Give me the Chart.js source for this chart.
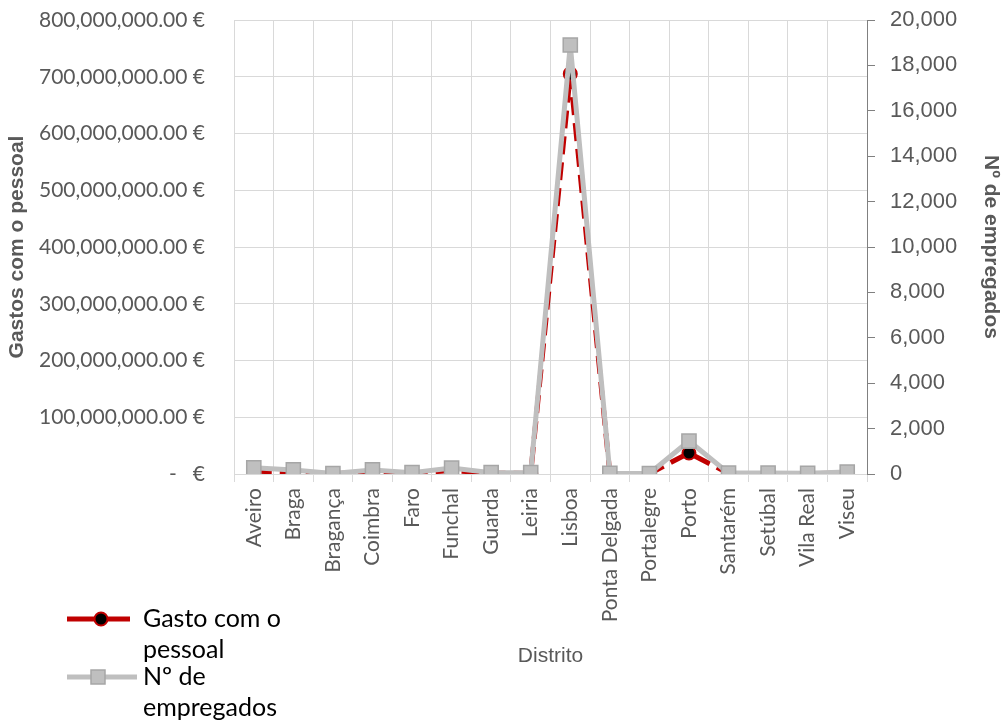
<!DOCTYPE html>
<html>
<head>
<meta charset="utf-8">
<script src="https://cdn.jsdelivr.net/npm/chart.js@4.4.1/dist/chart.umd.min.js"></script>
<style>
  body { margin: 0; background: #fff; }
  #wrap { width: 1008px; height: 725px; }
</style>
</head>
<body>
<div id="wrap"><canvas id="grafico"></canvas></div>
<script>
document.addEventListener("DOMContentLoaded", function () {

const distritos = ["Aveiro", "Braga", "Bragança", "Coimbra", "Faro", "Funchal", "Guarda", "Leiria",
    "Lisboa", "Ponta Delgada", "Portalegre", "Porto", "Santarém", "Setúbal", "Vila Real", "Viseu"];

// euros
const gastos = [5000000, 3000000, 500000, 3500000, 1500000, 6000000, 1500000, 1000000,
    705000000, 500000, 500000, 37000000, 1000000, 1000000, 500000, 1500000];

const empregados = [270, 180, 20, 180, 60, 260, 60, 60,
    18900, 30, 20, 1450, 40, 40, 30, 90];

const cinza = '#595959';

// legenda desenhada à mão, com quebra de linha como no original
const legenda = {
    id: 'legenda',
    afterDraw(chart) {
        const ctx = chart.ctx;
        ctx.save();
        ctx.font = '25px Lato';
        ctx.fillStyle = '#000';
        ctx.textBaseline = 'middle';

        function linhas(texto, max) {
            const palavras = texto.split(' ');
            const out = [];
            let atual = '';
            palavras.forEach(function (p) {
                const teste = atual ? atual + ' ' + p : p;
                if (ctx.measureText(teste).width > max && atual) {
                    out.push(atual);
                    atual = p;
                } else {
                    atual = teste;
                }
            });
            out.push(atual);
            return out;
        }

        let y = 619;
        chart.data.datasets.forEach(function (ds, i) {
            ctx.lineCap = 'butt';
            ctx.strokeStyle = ds.borderColor;
            ctx.lineWidth = 5;
            ctx.beginPath();
            ctx.moveTo(67, y);
            ctx.lineTo(i === 0 ? 130 : 137, y);
            ctx.stroke();
            if (i === 0) {
                ctx.beginPath();
                ctx.arc(101, y, 6.5, 0, Math.PI * 2);
                ctx.fillStyle = '#000';
                ctx.fill();
                ctx.lineWidth = 2;
                ctx.stroke();
            } else {
                ctx.fillStyle = ds.pointBackgroundColor;
                ctx.strokeStyle = ds.pointBorderColor;
                ctx.lineWidth = 1.5;
                ctx.fillRect(91, y - 7, 14, 14);
                ctx.strokeRect(91, y - 7, 14, 14);
            }
            ctx.fillStyle = '#000';
            const ls = linhas(ds.label, 140);
            ls.forEach(function (l, k) {
                ctx.fillText(l, 143, y + k * 31);
            });
            y += ls.length * 29;
        });
        ctx.restore();
    }
};

const data = {
    labels: distritos,
    datasets: [{
        label: 'Gasto com o pessoal',
        data: gastos,
        yAxisID: 'y',
        borderColor: '#c00000',
        borderWidth: 5,
        borderDash: [18, 8],
        pointStyle: 'circle',
        pointRadius: 6.5,
        pointBackgroundColor: '#000',
        pointBorderColor: '#c00000',
        pointBorderWidth: 2,
        tension: 0,
        order: 1
    }, {
        label: 'Nº de empregados',
        data: empregados,
        yAxisID: 'y2',
        borderColor: '#bfbfbf',
        borderWidth: 5,
        pointStyle: 'rect',
        pointRadius: 10,
        pointBackgroundColor: '#bfbfbf',
        pointBorderColor: '#a6a6a6',
        pointBorderWidth: 1.5,
        tension: 0,
        order: 0
    }]
};

const config = {
    type: 'line',
    data: data,
    plugins: [legenda],
    options: {
        responsive: true,
        maintainAspectRatio: false,
        animation: false,
        layout: { padding: { top: 20, left: 0, right: 0, bottom: 0 } },
        plugins: {
            legend: { display: false },
            tooltip: { enabled: false }
        },
        scales: {
            x: {
                offset: true,
                grid: { offset: true, color: '#d9d9d9', tickLength: 8 },
                border: { display: false },
                ticks: {
                    autoSkip: false, minRotation: 90, maxRotation: 90, padding: 6,
                    color: cinza, font: { family: 'Lato', size: 21 }
                },
                title: {
                    display: true, text: 'Distrito', color: cinza,
                    font: { family: 'Liberation Sans', size: 21 },
                    padding: { top: 0, bottom: 56 }
                },
                afterFit(s) { s.height = 251; s.paddingLeft = 0; s.paddingRight = 0; }
            },
            y: {
                position: 'left',
                min: 0, max: 800000000,
                grid: { color: '#d9d9d9', drawTicks: false },
                border: { display: false },
                ticks: {
                    stepSize: 100000000, padding: 29, color: cinza,
                    font: { family: 'Lato', size: 21 },
                    callback: function (v) {
                        if (v === 0) return '-   €';
                        return v.toLocaleString('en-US', { minimumFractionDigits: 2 }) + ' €';
                    }
                },
                title: {
                    display: true, text: 'Gastos com o pessoal', color: cinza,
                    font: { family: 'Liberation Sans', size: 21, weight: 'bold' },
                    padding: { top: 5, bottom: 0 }
                },
                afterFit(s) { s.width = 234; s.paddingTop = 0; s.paddingBottom = 0; }
            },
            y2: {
                position: 'right',
                min: 0, max: 20000,
                grid: { drawOnChartArea: false, color: '#808080', tickLength: 8 },
                border: { color: '#808080' },
                ticks: {
                    stepSize: 2000, padding: 15, color: cinza,
                    font: { family: 'Liberation Sans', size: 22 },
                    callback: function (v) { return v.toLocaleString('en-US'); }
                },
                title: {
                    display: true, text: 'Nº de empregados', color: cinza,
                    font: { family: 'Liberation Sans', size: 21, weight: 'bold' },
                    padding: { top: 5, bottom: 0 }
                },
                afterFit(s) { s.width = 141; s.paddingTop = 0; s.paddingBottom = 0; }
            }
        }
    }
};

new Chart(document.getElementById('grafico'), config);

});
</script>
</body>
</html>
